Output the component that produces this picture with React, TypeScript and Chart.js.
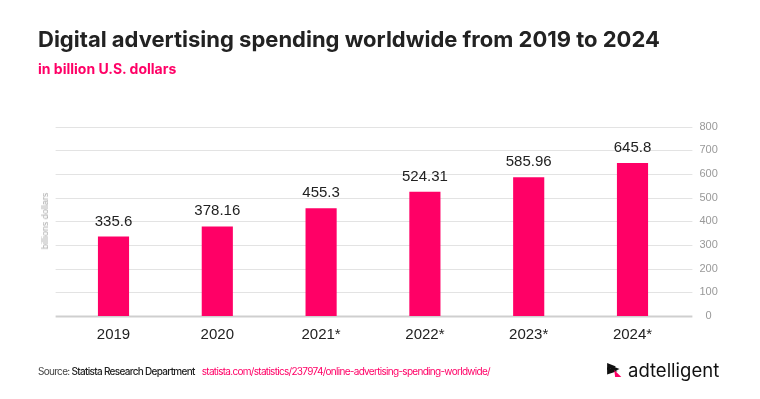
import React, { useEffect, useRef } from "react";
import { Chart, registerables } from "chart.js";

Chart.register(...registerables);

const categories = ["2019", "2020", "2021*", "2022*", "2023*", "2024*"];
const spending = [335.6, 378.16, 455.3, 524.31, 585.96, 645.8];
const valueLabels = ["335.6", "378.16", "455.3", "524.31", "585.96", "645.8"];
const yTicks = [0, 100, 200, 300, 400, 500, 600, 700, 800];

const PINK = "#ff0066";

const gridPlugin = {
  id: "customGrid",
  beforeDatasetsDraw(chart: any) {
    const { ctx, chartArea, scales } = chart;
    const y = scales.y;
    ctx.save();
    yTicks.forEach((v) => {
      const py = Math.round(y.getPixelForValue(v)) + 0.5;
      ctx.beginPath();
      ctx.strokeStyle = v === 0 ? "#cfcfcf" : "#e3e3e3";
      ctx.lineWidth = v === 0 ? 2 : 1;
      ctx.moveTo(chartArea.left - 6, py);
      ctx.lineTo(chartArea.right + 8, py);
      ctx.stroke();
    });
    ctx.restore();
  },
};

const labelPlugin = {
  id: "valueLabels",
  afterDatasetsDraw(chart: any) {
    const { ctx } = chart;
    const meta = chart.getDatasetMeta(0);
    ctx.save();
    ctx.font = "15px 'Liberation Sans', Arial, sans-serif";
    ctx.fillStyle = "#222222";
    ctx.textAlign = "center";
    ctx.textBaseline = "alphabetic";
    meta.data.forEach((bar: any, i: number) => {
      ctx.fillText(valueLabels[i], bar.x, bar.y - 11);
    });
    ctx.restore();
  },
};

export default function App() {
  const ref = useRef<HTMLCanvasElement>(null);
  useEffect(() => {
    if (!ref.current) return;
    const chart = new Chart(ref.current, {
      type: "bar",
      data: {
        labels: categories,
        datasets: [
          {
            data: spending,
            backgroundColor: PINK,
            borderWidth: 0,
            barPercentage: 0.3,
            categoryPercentage: 1,
          },
        ],
      },
      options: {
        animation: false,
        responsive: false,
        maintainAspectRatio: false,
        layout: { padding: { left: 61.6, top: 126.5, right: 0, bottom: 0 } },
        plugins: { legend: { display: false }, tooltip: { enabled: false }, title: { display: false } },
        scales: {
          x: {
            grid: { display: false, drawTicks: false },
            border: { display: false },
            ticks: {
              color: "#222222",
              font: { family: "'Liberation Sans', Arial, sans-serif", size: 15 },
              padding: 10,
              maxRotation: 0,
            },
            afterFit: (s: any) => {
              s.height = 83;
            },
          },
          y: {
            position: "right",
            min: 0,
            max: 800,
            grid: { display: false, drawTicks: false },
            border: { display: false },
            ticks: {
              stepSize: 100,
              color: "#999999",
              font: { family: "'Liberation Sans', Arial, sans-serif", size: 11 },
              padding: 15,
              crossAlign: "center",
            },
            afterFit: (s: any) => {
              s.width = 75.6;
            },
          },
        },
      },
      plugins: [gridPlugin, labelPlugin],
    });
    return () => chart.destroy();
  }, []);

  return (
    <div style={{ position: "fixed", left: 0, top: 0, width: 760, height: 399, background: "#fff", overflow: "hidden" }}>
      <canvas ref={ref} width={760} height={399} style={{ position: "absolute", left: 0, top: 0, width: 760, height: 399 }} />
      <div
        style={{
          position: "absolute",
          left: 38,
          top: 26,
          fontFamily: "Inter, sans-serif",
          fontWeight: 700,
          fontSize: 22,
          color: "#222",
          whiteSpace: "nowrap",
          letterSpacing: 0,
        }}
      >
        Digital advertising spending worldwide from 2019 to 2024
      </div>
      <div
        style={{
          position: "absolute",
          left: 38,
          top: 60,
          fontFamily: "Inter, sans-serif",
          fontWeight: 700,
          fontSize: 14,
          color: PINK,
          whiteSpace: "nowrap",
          letterSpacing: 0,
        }}
      >
        in billion U.S. dollars
      </div>
      <div
        style={{
          position: "absolute",
          left: 45,
          top: 221,
          transform: "translate(-50%, -50%) rotate(-90deg)",
          fontFamily: "'Liberation Sans', Arial, sans-serif",
          fontSize: 9,
          color: "#aaaaaa",
          whiteSpace: "nowrap",
        }}
      >
        billions dollars
      </div>
      <div
        style={{
          position: "absolute",
          left: 38,
          top: 365,
          fontFamily: "Inter, sans-serif",
          fontSize: 10,
          color: "#222",
          whiteSpace: "nowrap",
          letterSpacing: -0.7,
        }}
      >
        <span style={{ color: "#444" }}>Source: </span>
        <span style={{ fontWeight: 500 }}>Statista Research Department</span>
        <span style={{ color: PINK, marginLeft: 7 }}>statista.com/statistics/237974/online-advertising-spending-worldwide/</span>
      </div>
      <div style={{ position: "absolute", left: 607, top: 361, display: "flex", alignItems: "center" }}>
        <svg width="18" height="16" viewBox="0 0 20 18">
          <polygon points="0,1 10,5 0,9" fill="#111" />
          <polygon points="0,6 12,10 0,14" fill="#111" />
          <polygon points="4,4 14,8 4,12" fill="#111" />
          <polygon points="8,9 16,17 9,17" fill={PINK} />
        </svg>
        <span
          style={{
            fontFamily: "Inter, sans-serif",
            fontSize: 18.5,
            color: "#111",
            marginLeft: 3,
            letterSpacing: 0,
            lineHeight: "18px",
          }}
        >
          adtelligent
        </span>
      </div>
    </div>
  );
}
